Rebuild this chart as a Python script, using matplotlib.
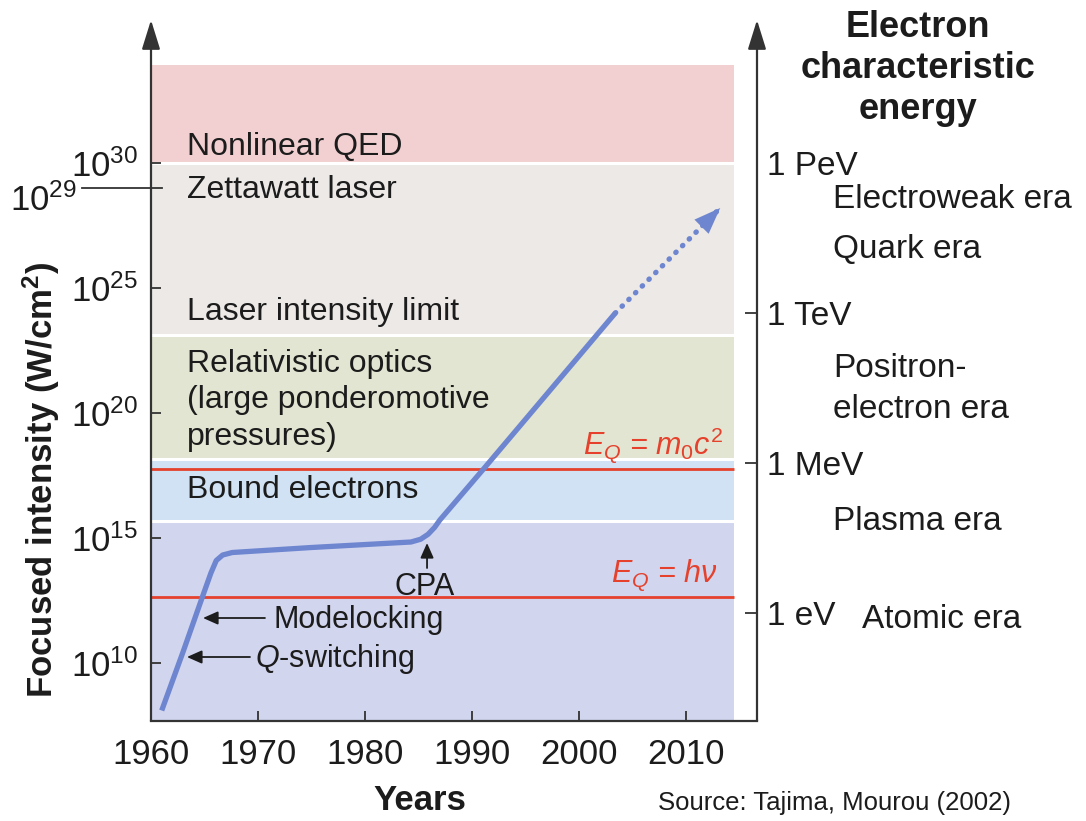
import matplotlib
matplotlib.use("Agg")
import matplotlib.pyplot as plt
import matplotlib.transforms as mtransforms
from matplotlib.ticker import NullLocator
import numpy as np

plt.rcParams["font.family"] = ["Liberation Sans", "DejaVu Sans"]
plt.rcParams["mathtext.fontset"] = "custom"
plt.rcParams["mathtext.rm"] = "Liberation Sans"
plt.rcParams["mathtext.it"] = "Liberation Sans:italic"
plt.rcParams["mathtext.bf"] = "Liberation Sans:bold"

# ---- data -------------------------------------------------------------
# peak focused intensity, log10(W/cm^2)
curve_years = [1961.0, 1963.0, 1964.8, 1965.6, 1966.1, 1966.7, 1967.6,
               1975.0, 1984.3, 1985.2, 1985.9, 1986.5, 1987.0, 1991.0, 2003.4]
curve_log_i = [8.1, 10.45, 12.64, 13.6, 14.1, 14.32, 14.42,
               14.62, 14.84, 14.95, 15.15, 15.42, 15.72, 17.72, 24.0]
future_years = [2003.4, 2013.2]
future_log_i = [24.0, 28.2]

# regimes (log10 intensity)
band_bottoms = [30.0, 23.12, 18.16, 15.68, 7.68]
band_tops = [33.92, 30.0, 23.12, 18.16, 15.68]
band_colors = ["#f2d0d1", "#ece9e7", "#e2e5d1", "#d0e2f4", "#d1d5ee"]
threshold_log_i = [17.76, 12.64]  # E_Q = m0c^2, E_Q = hv

left_ticks = [10, 15, 20, 25, 30]
energy_ticks = [12, 18, 24, 30]
energy_labels = ["1 eV", "1 MeV", "1 TeV", "1 PeV"]
year_ticks = [1960, 1970, 1980, 1990, 2000, 2010]

W, H = 1086, 821
INK = "#1c1c1c"
AXIS = "#333333"
BLUE = "#6e86d0"
RED = "#e5412c"
BAND_RIGHT = 2014.5


def px(x, y):
    return x / W, 1 - y / H


fig = plt.figure(figsize=(W / 100, H / 100), dpi=100)
ax = fig.add_axes([151 / W, 1 - 721 / H, (757 - 151) / W, (721 - 20) / H])
ax.set_yscale("log")
ax.set_xlim(1960, 2016.64)
ax.set_ylim(10 ** 7.68, 10 ** 35.72)

for lo, hi, c in zip(band_bottoms, band_tops, band_colors):
    ax.fill_between([1960, BAND_RIGHT], 10 ** lo, 10 ** hi, color=c, lw=0, zorder=0)
ax.hlines([10 ** v for v in band_bottoms[:4]], 1960, BAND_RIGHT,
          colors="white", lw=2.2, zorder=1)
ax.hlines([10 ** v for v in threshold_log_i], 1960, BAND_RIGHT,
          colors=RED, lw=2, zorder=2)

ax.plot(curve_years, 10 ** np.array(curve_log_i), color=BLUE, lw=3.8,
        solid_joinstyle="round", solid_capstyle="butt", zorder=4)

# projected growth: dotted line with a solid head
ax.plot(future_years, 10 ** np.array(future_log_i), color=BLUE, lw=3.8,
        linestyle=(0, (0.1, 1.7)), dash_capstyle="round", zorder=4)
slope = (future_log_i[1] - future_log_i[0]) / (future_years[1] - future_years[0])
ax.annotate("", xy=(future_years[1], 10 ** future_log_i[1]),
            xytext=(future_years[1] - 2.0, 10 ** (future_log_i[1] - 2.0 * slope)),
            arrowprops=dict(arrowstyle="-|>,head_length=0.95,head_width=0.36",
                            color=BLUE, lw=0.01, mutation_scale=20,
                            shrinkA=0, shrinkB=0), zorder=5)

# small annotation arrows
small = dict(arrowstyle="-|>,head_length=0.45,head_width=0.2", color=INK,
             lw=1.3, mutation_scale=20, shrinkA=0, shrinkB=0)
ax.annotate("", xy=(1985.8, 10 ** 14.8), xytext=(1985.8, 10 ** 13.8), arrowprops=small)
ax.annotate("", xy=(1964.86, 10 ** 11.8), xytext=(1970.65, 10 ** 11.8), arrowprops=small)
ax.annotate("", xy=(1963.36, 10 ** 10.24), xytext=(1969.25, 10 ** 10.24), arrowprops=small)

# axes, ticks
for s in ["top", "left", "right"]:
    ax.spines[s].set_visible(False)
ax.spines["bottom"].set_linewidth(1.6)
ax.spines["bottom"].set_color(AXIS)
ax.set_yticks([10.0 ** t for t in left_ticks])
ax.set_yticklabels([r"$10^{%d}$" % t for t in left_ticks])
ax.yaxis.set_minor_locator(NullLocator())
ax.set_xticks(year_ticks)
ax.tick_params(axis="y", direction="in", length=7.5, width=1.3, pad=9,
               labelsize=25, colors=AXIS, labelcolor=INK)
ax.tick_params(axis="x", direction="in", length=7, width=1.3, pad=12,
               labelsize=25, colors=AXIS, labelcolor=INK)

for xa in (0, 1):
    ax.annotate("", xy=(xa, 1), xytext=(xa, 0), xycoords="axes fraction",
                arrowprops=dict(arrowstyle="-|>,head_length=0.9,head_width=0.28",
                                color=AXIS, lw=1.6, mutation_scale=20,
                                shrinkA=0, shrinkB=0),
                annotation_clip=False)

ax2 = ax.twinx()
ax2.set_yscale("log")
ax2.set_ylim(ax.get_ylim())
for s in ax2.spines.values():
    s.set_visible(False)
ax2.set_yticks([10.0 ** t for t in energy_ticks])
ax2.set_yticklabels(energy_labels)
ax2.yaxis.set_minor_locator(NullLocator())
ax2.tick_params(axis="y", direction="in", length=8.6, width=1.3, pad=7,
                labelsize=24, colors=AXIS, labelcolor=INK)
ax2.yaxis.get_major_ticks()[3].tick2line.set_visible(False)

# 10^29 marker
blend = mtransforms.blended_transform_factory(ax.transAxes, ax.transData)
ax.plot([-0.114, 0.018], [1e29, 1e29], transform=blend, color=AXIS, lw=1.3,
        clip_on=False)
fig.text(*px(77, 211), r"$10^{29}$", ha="right", va="baseline", fontsize=25, color=INK)

# regime labels
for txt, y in [("Nonlinear QED", 155), ("Zettawatt laser", 198),
               ("Laser intensity limit", 320), ("Relativistic optics", 372),
               ("(large ponderomotive", 408), ("pressures)", 445),
               ("Bound electrons", 498)]:
    fig.text(*px(187, y), txt, ha="left", va="baseline", fontsize=23, color=INK)

fig.text(*px(723, 455), r"$E_Q$ = $m_0c^2$", ha="right", va="baseline",
         fontsize=22, color=RED, style="italic")
fig.text(*px(718, 582), r"$E_Q$ = $h\nu$", ha="right", va="baseline",
         fontsize=22, color=RED, style="italic")

fig.text(*px(425, 595), "CPA", ha="center", va="baseline", fontsize=22, color=INK)
fig.text(*px(273, 628), "Modelocking", ha="left", va="baseline", fontsize=22, color=INK)
fig.text(*px(255, 667), r"$Q$-switching", ha="left", va="baseline", fontsize=22, color=INK)

# right side
for txt, y in [("Electron", 37), ("characteristic", 78), ("energy", 119)]:
    fig.text(*px(918, y), txt, ha="center", va="baseline", fontsize=26,
             fontweight="bold", color=INK)
for txt, x, y in [("Electroweak era", 833, 208), ("Quark era", 833, 258),
                  ("Positron-", 833, 377), ("electron era", 833, 418),
                  ("Plasma era", 833, 530), ("Atomic era", 862, 628)]:
    fig.text(*px(x, y), txt, ha="left", va="baseline", fontsize=24, color=INK)

fig.text(*px(41, 480), r"Focused intensity (W/cm$^\mathbf{2}$)", rotation=90,
         ha="center", va="center", fontsize=25, fontweight="bold", color=INK)
fig.text(*px(420, 810), "Years", ha="center", va="baseline", fontsize=25,
         fontweight="bold", color=INK)
fig.text(*px(658, 810), "Source: Tajima, Mourou (2002)", ha="left",
         va="baseline", fontsize=18.5, color=INK)

fig.savefig("out.png", dpi=100, facecolor="white")
